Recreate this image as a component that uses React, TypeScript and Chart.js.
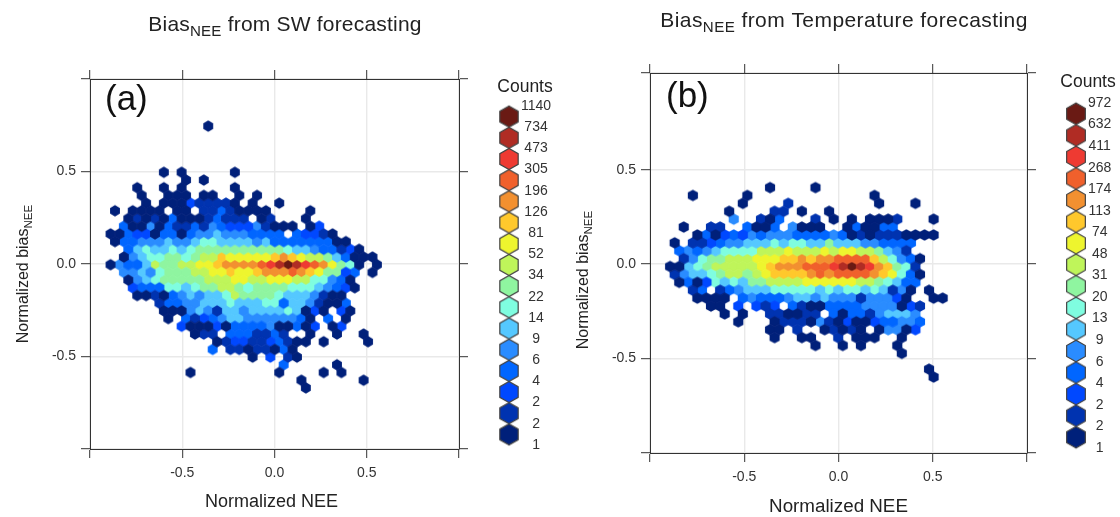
import React, { useEffect, useRef } from "react";
import { Chart, registerables } from "chart.js";

Chart.register(...registerables);

const FONT = '"Liberation Sans", Arial, sans-serif';
const levelColors = ["#00207a","#0033b0","#0048ff","#0066ff","#2a8cff","#55c8ff","#7ffde0","#8ff5a0","#bff55a","#eef52e","#ffc82c","#f29030","#f0602c","#ee3a32","#b02c24","#6a1a14"];
const countsA = ["1","2","2","4","6","9","14","22","34","52","81","126","196","305","473","734","1140"];
const countsB = ["1","2","2","4","6","9","13","20","31","48","74","113","174","268","411","632","972"];

// hexbin row number (0 = row through zero, + is up)
const rowsA = [18,12,11,10,9,8,7,6,5,4,3,2,1,0,-1,-2,-3,-4,-5,-6,-7,-8,-9,-10,-11,-12,-13,-14,-15,-16];
// one character per bin column: level index into levelColors (hex), blank = empty
const levelsA = [
"               0",
"          0 0     0",
"            0 0",
"       0  0 0     0",
"       0  000 00  0 0",
"        0 000211110 0  0",
"    0 0000 00 11310000    0",
"      01010300013111 01   0",
"     30040311314322241000 02",
"    00322033034454443333 32210",
"    033444544566555545333333300",
"      356556567777777777655433120",
"     04566776788a99999aba988753000",
"    043358778899abbbbcdefedcb9760 0",
"     445467778899a99abbbcba97723 0",
"      04567777788899889998866430",
"      23336656778876777766654320",
"       001034545568777765554100",
"         1334455565556635541003",
"          0004541554555565020 20",
"          0 312345544444430 3 0",
"            2000203333400302 02",
"             011 3331131  0  0  0",
"                01221123100 0    0",
"               3 11011030",
"                    0 2 10",
"                       3     0",
"             0         0    0 0",
"                         0      0",
"                          0",
];

const rowsB = [10,9,8,7,6,5,4,3,2,1,0,-1,-2,-3,-4,-5,-6,-7,-8,-9,-10,-11,-13,-14];
const levelsB = [
"               0    0",
"      0     0             0",
"            0    1         0   0",
"          0    11 0  0",
"           4  103   1 0 0 0001   0",
"     0  11  3003 4000  030033",
"       030232434443333430101110000",
"    0 1123445556566557555443333",
"     34345666688898889899887541",
"     14677888999aababbcccca86430",
"    00567888889abbbcccdefedba761",
"    14556788789aaaabcbccccba9630",
"     030265657788889999998876533",
"      13 1345556666656566565140 0",
"       0000 3433345545444144420  00",
"        00 2 212 310033334444021",
"          0 0  110011 3033145554",
"           0   01110410200233443",
"               00 1  01010 04402",
"               0  00  1 000  0",
"                    0  0 0   0",
"                             0",
"                                0",
"                                 0",
];

// hex lattice, data units: centre bin of row 0 is column 24
const latticeA = { xc: 0.0738, yc: -0.0038, dx: 0.04812, dy: 0.04162 };
const latticeB = { xc: 0.0707, yc: -0.0127, dx: 0.0482, dy: 0.0418 };

function hexCanvas(color: string, R: number, stroke?: string) {
  const size = Math.ceil(R * 2 + 4);
  const c = document.createElement("canvas");
  c.width = size;
  c.height = size;
  const g = c.getContext("2d")!;
  g.beginPath();
  for (let k = 0; k < 6; k++) {
    const a = Math.PI / 2 + (k * Math.PI) / 3;
    const x = size / 2 + R * Math.cos(a);
    const y = size / 2 + R * Math.sin(a);
    if (k === 0) g.moveTo(x, y);
    else g.lineTo(x, y);
  }
  g.closePath();
  g.fillStyle = color;
  g.fill();
  if (stroke) {
    g.strokeStyle = stroke;
    g.lineWidth = 1.2;
    g.stroke();
  }
  return c;
}

function buildDatasets(rows: number[], levels: string[], lat: typeof latticeA, R: number) {
  return levelColors.map((color, lev) => {
    const code = lev.toString(16);
    const data: { x: number; y: number }[] = [];
    rows.forEach((r, ri) => {
      const line = levels[ri];
      for (let i = 0; i < line.length; i++) {
        if (line[i] === code) {
          const odd = Math.abs(r) % 2 === 1 ? 0.5 : 0;
          data.push({ x: lat.xc + (i - 24 + odd) * lat.dx, y: lat.yc + r * lat.dy });
        }
      }
    });
    return {
      label: `level ${lev}`,
      data,
      showLine: false,
      clip: false,
      pointStyle: hexCanvas(color, R),
      pointRadius: 5,
      backgroundColor: color,
    };
  });
}

function rich(ctx: CanvasRenderingContext2D, lead: string, trail: string, x: number, y: number, size: number, rot: number, spacing: number) {
  ctx.save();
  ctx.translate(x, y);
  ctx.rotate(rot);
  ctx.fillStyle = "#222";
  ctx.textAlign = "left";
  ctx.textBaseline = "alphabetic";
  (ctx as any).letterSpacing = `${spacing}px`;
  const main = `${size}px ${FONT}`;
  const sub = `${size * 0.72}px ${FONT}`;
  ctx.font = main;
  const w1 = ctx.measureText(lead).width;
  const w3 = ctx.measureText(trail).width;
  ctx.font = sub;
  const w2 = ctx.measureText("NEE").width;
  let cx = -(w1 + w2 + w3) / 2;
  ctx.font = main;
  ctx.fillText(lead, cx, 0);
  cx += w1;
  ctx.font = sub;
  ctx.fillText("NEE", cx, size * 0.24);
  cx += w2;
  ctx.font = main;
  ctx.fillText(trail, cx, 0);
  ctx.restore();
}

interface PanelCfg {
  rows: number[];
  levels: string[];
  lat: typeof latticeA;
  R: number;
  width: number;
  height: number;
  yMax: number;
  area: { left: number; right: number; top: number; bottom: number };
  title: string;
  titleX: number;
  titleY: number;
  titleSpacing: number;
  tag: string;
  tagX: number;
  tagY: number;
  yLabelX: number;
  yLabelY: number;
  xLabelX: number;
  xLabelY: number;
  xLabelSize: number;
}

const panelA: PanelCfg = {
  rows: rowsA, levels: levelsA, lat: latticeA, R: 5.7, width: 490, height: 517, yMax: 1,
  area: { left: 90, right: 459, top: 79, bottom: 449 },
  title: " from SW forecasting", titleX: 285, titleY: 31, titleSpacing: 0.2,
  tag: "(a)", tagX: 105, tagY: 110, yLabelX: 28, yLabelY: 274,
  xLabelX: 271.5, xLabelY: 507, xLabelSize: 18,
};
const panelB: PanelCfg = {
  rows: rowsB, levels: levelsB, lat: latticeB, R: 5.85, width: 490, height: 517, yMax: 1.012,
  area: { left: 90, right: 467, top: 73, bottom: 453 },
  title: " from Temperature forecasting", titleX: 284, titleY: 27, titleSpacing: 0.43,
  tag: "(b)", tagX: 106, tagY: 107, yLabelX: 28, yLabelY: 280,
  xLabelX: 278.5, xLabelY: 512, xLabelSize: 18.8,
};

function makePanel(canvas: HTMLCanvasElement, p: PanelCfg) {
  const axisCommon = (pos: string, fit: (s: any) => void, labels: boolean) => {
    const vertical = pos === "left" || pos === "right";
    return {
      type: "linear",
      position: pos,
      axis: vertical ? "y" : "x",
      min: -1,
      max: vertical ? p.yMax : 1,
      afterFit: fit,
      afterBuildTicks: (s: any) => {
        s.ticks = [-1, -0.5, 0, 0.5, vertical ? p.yMax : 1].map((value) => ({ value }));
      },
      border: { color: "#333", width: 1 },
      grid: { color: labels ? "#e9e9e9" : "rgba(0,0,0,0)", lineWidth: 1.4, tickColor: "#333", tickLength: 9, tickWidth: 1, drawOnChartArea: labels },
      ticks: {
        autoSkip: false,
        maxRotation: 0,
        padding: pos === "left" ? 5 : 7,
        color: "#333",
        font: { family: FONT, size: 14 },
        callback: (v: number) => (labels && Math.abs(v) < 0.9 ? v.toFixed(1) : ""),
      },
    };
  };
  return new Chart(canvas, {
    type: "scatter",
    data: { datasets: buildDatasets(p.rows, p.levels, p.lat, p.R) as any },
    options: {
      animation: false,
      responsive: false,
      events: [],
      layout: { padding: 0 },
      plugins: { legend: { display: false }, tooltip: { enabled: false }, title: { display: false } },
      scales: {
        x: axisCommon("bottom", (s) => { s.height = p.height - p.area.bottom; }, true),
        y: axisCommon("left", (s) => { s.width = p.area.left; }, true),
        x2: axisCommon("top", (s) => { s.height = p.area.top; }, false),
        y2: axisCommon("right", (s) => { s.width = p.width - p.area.right; }, false),
      } as any,
    },
    plugins: [
      {
        id: "panelText",
        afterDraw(chart: any) {
          const ctx = chart.ctx as CanvasRenderingContext2D;
          rich(ctx, "Bias", p.title, p.titleX, p.titleY, 21, 0, p.titleSpacing);
          rich(ctx, "Normalized bias", "", p.yLabelX, p.yLabelY, 16, -Math.PI / 2, 0);
          ctx.save();
          ctx.fillStyle = "#222";
          ctx.font = `${p.xLabelSize}px ${FONT}`;
          ctx.textAlign = "center";
          ctx.fillText("Normalized NEE", p.xLabelX, p.xLabelY);
          ctx.fillStyle = "#111";
          ctx.font = `35px ${FONT}`;
          ctx.textAlign = "left";
          ctx.fillText(p.tag, p.tagX, p.tagY);
          ctx.restore();
        },
      },
    ],
  } as any);
}

function makeLegend(canvas: HTMLCanvasElement, counts: string[], padLeft: number, padTop: number, padBottom: number, scaleWidth: number, R: number, countsX: number, countsY: number) {
  const hexes = levelColors.map((c) => hexCanvas(c, R, "#444"));
  return new Chart(canvas, {
    type: "scatter",
    data: {
      datasets: [
        {
          data: levelColors.map((_, i) => ({ x: 0, y: i })),
          showLine: false,
          clip: false,
          pointRadius: 10,
          pointStyle: (ctx: any) => hexes[ctx.dataIndex],
        },
      ],
    } as any,
    options: {
      animation: false,
      responsive: false,
      events: [],
      layout: { padding: { left: padLeft, top: padTop, bottom: padBottom, right: 0 } },
      plugins: { legend: { display: false }, tooltip: { enabled: false } },
      scales: {
        x: { display: false, min: -1, max: 1 },
        y: {
          position: "right",
          min: -0.5,
          max: 15.5,
          afterFit: (s: any) => { s.width = scaleWidth; },
          afterBuildTicks: (s: any) => { s.ticks = counts.map((_, i) => ({ value: i - 0.5 })); },
          border: { display: false },
          grid: { display: false, drawTicks: false },
          ticks: {
            autoSkip: false,
            padding: 0,
            crossAlign: "center",
            color: "#333",
            font: { family: FONT, size: 14 },
            callback: (_v: number, i: number) => counts[i],
          },
        },
      } as any,
    },
    plugins: [
      {
        id: "countsTitle",
        afterDraw(chart: any) {
          const ctx = chart.ctx as CanvasRenderingContext2D;
          ctx.save();
          ctx.fillStyle = "#222";
          ctx.font = `17.5px ${FONT}`;
          ctx.textAlign = "center";
          ctx.fillText("Counts", countsX, countsY);
          ctx.restore();
        },
      },
    ],
  } as any);
}

export default function App() {
  const a = useRef<HTMLCanvasElement>(null);
  const b = useRef<HTMLCanvasElement>(null);
  const la = useRef<HTMLCanvasElement>(null);
  const lb = useRef<HTMLCanvasElement>(null);
  useEffect(() => {
    const charts = [
      makePanel(a.current!, panelA),
      makePanel(b.current!, panelB),
      makeLegend(la.current!, countsA, 17, 106, 72, 59, 10.6, 45, 92),
      makeLegend(lb.current!, countsB, 14, 103, 69, 32, 10.8, 38, 87),
    ];
    return () => charts.forEach((c) => c.destroy());
  }, []);
  const pos = (left: number): React.CSSProperties => ({ position: "absolute", left, top: 0, filter: "blur(0.35px)" });
  return (
    <div style={{ position: "fixed", left: 0, top: 0, width: 1120, height: 517, overflow: "hidden", background: "#fff" }}>
      <canvas ref={a} width={490} height={517} style={pos(0)} />
      <canvas ref={b} width={490} height={517} style={pos(560)} />
      <canvas ref={la} width={100} height={517} style={pos(480)} />
      <canvas ref={lb} width={70} height={517} style={pos(1050)} />
    </div>
  );
}
